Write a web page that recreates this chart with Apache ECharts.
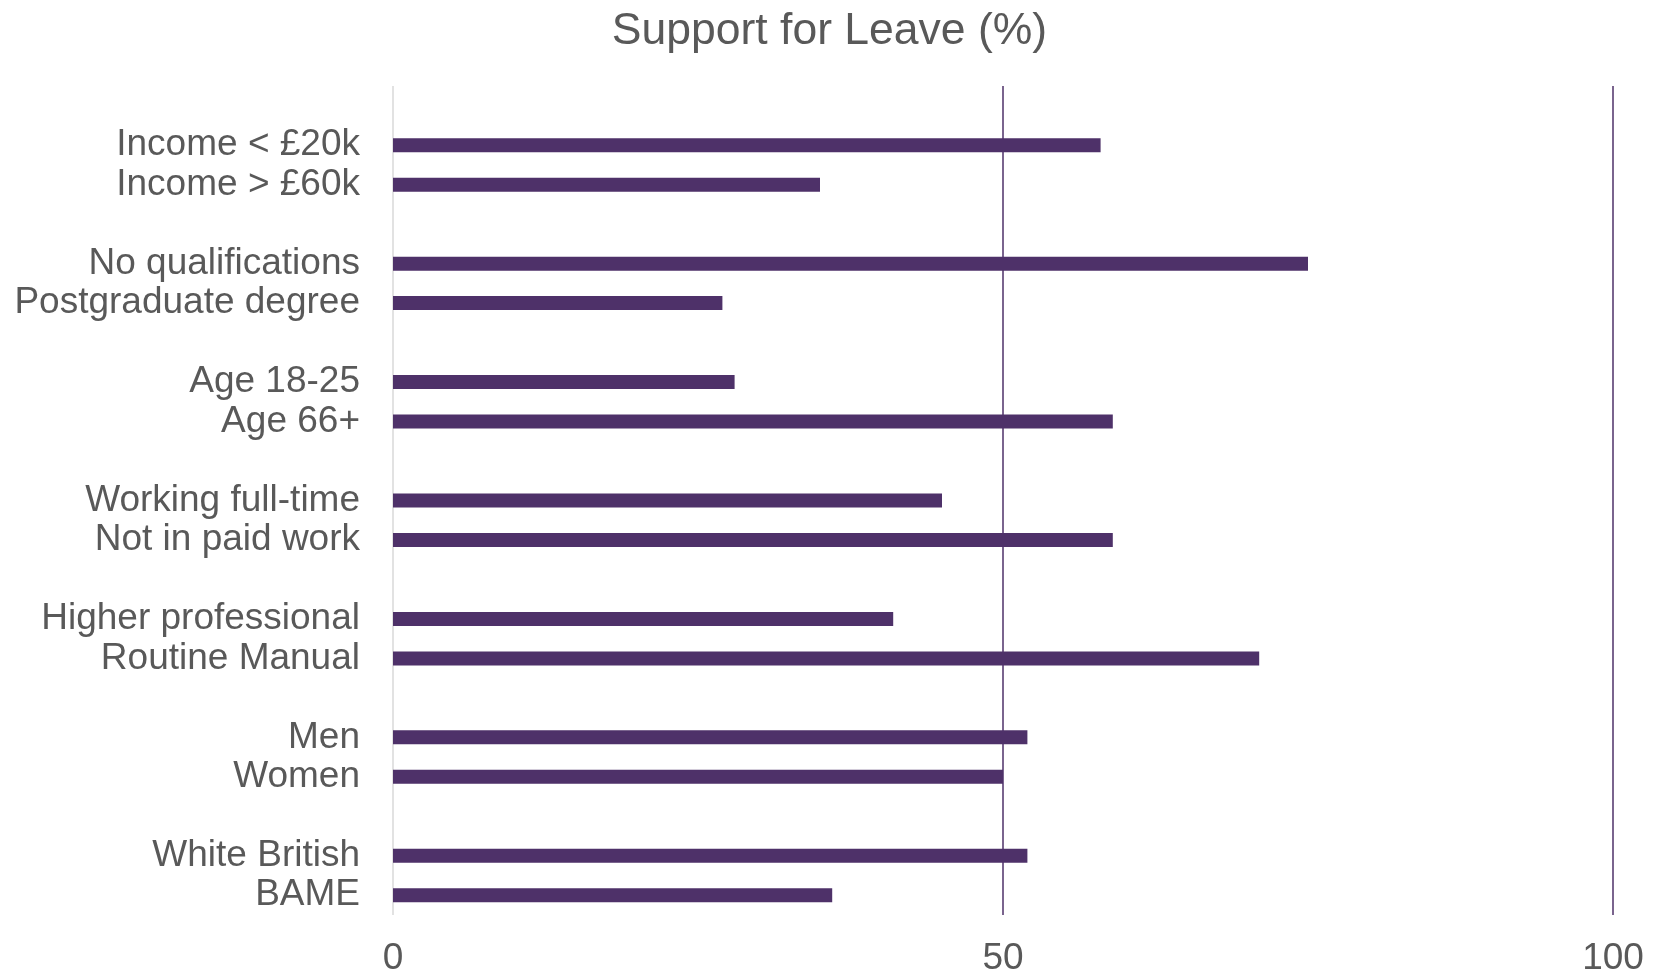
<!DOCTYPE html>
<html>
<head>
<meta charset="utf-8">
<title>Support for Leave</title>
<script src="https://cdn.jsdelivr.net/npm/echarts@6/dist/echarts.min.js"></script>
<style>
  html, body { margin: 0; padding: 0; background: #fff; }
  #chart { width: 1659px; height: 973px; }
</style>
</head>
<body>
<div id="chart"></div>
<script>
// blank entries are the gaps between groups
var categories = ['', 'Income < £20k', 'Income > £60k', '', 'No qualifications', 'Postgraduate degree', '',
  'Age 18-25', 'Age 66+', '', 'Working full-time', 'Not in paid work', '',
  'Higher professional', 'Routine Manual', '', 'Men', 'Women', '', 'White British', 'BAME']
var support = [null, 58, 35, null, 75, 27, null,
  28, 59, null, 45, 59, null,
  41, 71, null, 52, 50, null, 52, 36]
var xTicks = [0, 50, 100]

var purple = '#4E3169'
var grey = '#595959'
var font = '"Liberation Sans", Arial, sans-serif'

var myChart = echarts.init(document.getElementById('chart'))
var option = {
  backgroundColor: '#fff',
  animation: false,
  title: {
    text: 'Support for Leave (%)',
    left: 'center',
    top: 4,
    textStyle: { fontFamily: font, fontSize: 44.5, fontWeight: 'normal', color: grey }
  },
  grid: { left: 393, right: 46, top: 86, bottom: 58, outerBoundsMode: 'none' },
  xAxis: {
    type: 'value',
    min: xTicks[0],
    max: xTicks[xTicks.length - 1],
    interval: xTicks[1] - xTicks[0],
    axisLine: { show: false },
    axisTick: { show: false },
    axisLabel: { fontFamily: font, fontSize: 37, color: grey, margin: 25 },
    splitLine: { show: true, lineStyle: { color: ['#D9D9D9', purple, purple], width: 1.5 } }
  },
  yAxis: {
    type: 'category',
    inverse: true,
    data: categories,
    axisLine: { show: false },
    axisTick: { show: false },
    axisLabel: { fontFamily: font, fontSize: 37, color: grey, margin: 33, interval: 0, padding: [8, 0, 0, 0] }
  },
  series: [{
    type: 'bar',
    data: support,
    barWidth: 14,
    itemStyle: { color: purple }
  }]
}
option && myChart.setOption(option)
</script>
</body>
</html>
